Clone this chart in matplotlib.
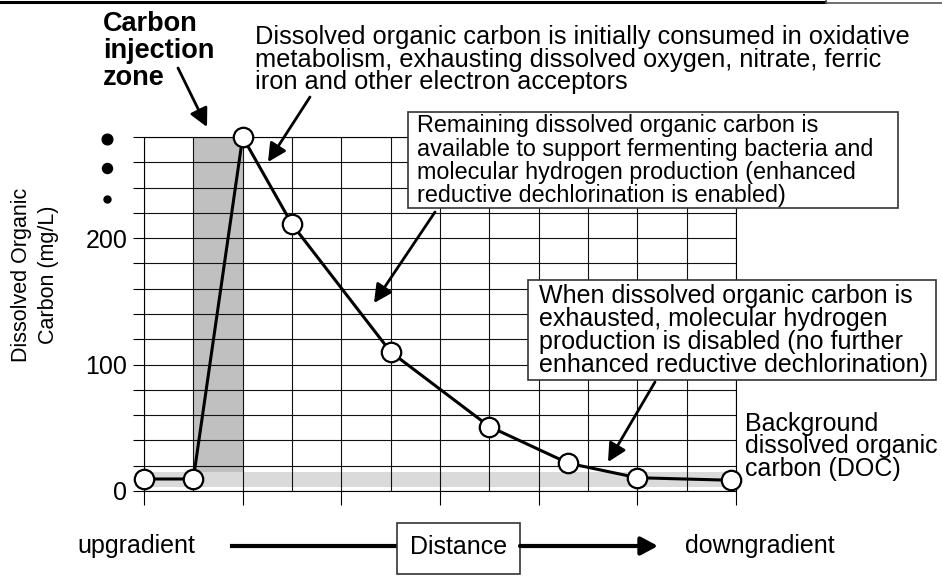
import matplotlib
matplotlib.use('Agg')
import matplotlib.pyplot as plt
from matplotlib.patches import Rectangle, FancyArrowPatch
from matplotlib.lines import Line2D
from matplotlib.ticker import FixedLocator, FuncFormatter

plt.rcParams['font.family'] = ['Liberation Sans', 'DejaVu Sans']

W, H = 942, 576

# DOC profile along the flow path (distance in grid units, DOC in mg/L)
distance = [0, 1, 2, 3, 5, 7, 8.6, 10, 11.9]
doc_mg_l = [9.5, 9.5, 280, 211, 110, 51, 22, 10.5, 8.5]

injection_zone = (1, 2)
zone_floor = 15
background_band = (3, 15)
x_max = 12
y_max = 280
y_step = 20
y_labelled = [0, 100, 200]


def fpx(x, y):
    """Pixel position measured from the top-left corner -> figure fraction."""
    return x / W, 1 - y / H


def arrow(p0, p1, lw=2.0, hl=0.55, hw=0.28, scale=20):
    a = FancyArrowPatch(fpx(*p0), fpx(*p1), transform=fig.transFigure,
                        arrowstyle=f'-|>,head_length={hl},head_width={hw}',
                        mutation_scale=scale, lw=lw, color='black',
                        shrinkA=0, shrinkB=0, zorder=4)
    fig.add_artist(a)


def box(x0, y0, x1, y1, lw=1.2):
    r = Rectangle(fpx(x0, y1), (x1 - x0) / W, (y1 - y0) / H,
                  transform=fig.transFigure, facecolor='white',
                  edgecolor='#333333', lw=lw, zorder=2)
    fig.add_artist(r)


def note(x, y_last, s, **kw):
    # y_last is the baseline of the last line
    fig.text(*fpx(x, y_last), s, va='baseline', **kw)


fig = plt.figure(figsize=(W / 100, H / 100), dpi=100)
left, top = fpx(144, 137)
right, bottom = fpx(736, 491)
ax = fig.add_axes([left, bottom, right - left, top - bottom])

ax.set_xlim(0, x_max)
ax.set_ylim(0, y_max)

# grid: every distance unit, every 20 mg/L
ax.xaxis.set_major_locator(FixedLocator(range(0, x_max + 1, 2)))
ax.xaxis.set_minor_locator(FixedLocator(range(1, x_max, 2)))
ax.yaxis.set_major_locator(FixedLocator(range(0, y_max + 1, y_step)))
ax.yaxis.set_major_formatter(FuncFormatter(
    lambda v, _: f'{v:.0f}' if round(v) in y_labelled else ''))
ax.grid(which='both', color='#111111', lw=0.8)
ax.tick_params(axis='x', which='major', direction='out', length=10,
               width=0.8, labelbottom=False)
ax.tick_params(axis='x', which='minor', length=0)
ax.tick_params(axis='y', direction='out', length=8, width=0.8, pad=4,
               labelsize=18)
for s in ax.spines.values():
    s.set_linewidth(0.8)

# injection zone and background DOC band
ax.add_patch(Rectangle((injection_zone[0], zone_floor),
                       injection_zone[1] - injection_zone[0],
                       y_max - zone_floor, facecolor='#c0c0c0',
                       edgecolor='none', zorder=0.5))
ax.add_patch(Rectangle((0, background_band[0]), x_max,
                       background_band[1] - background_band[0],
                       facecolor='#dadada', edgecolor='none', zorder=0.6))

ax.plot(distance, doc_mg_l, '-o', color='black', lw=2.2, ms=14,
        mfc='white', mec='black', mew=1.6, clip_on=False, zorder=5)

# axis break dots above the y axis
for (px, py), ms in zip([(107, 139), (107, 168), (107, 199)], [7.7, 7.2, 5.0]):
    fig.add_artist(Line2D([fpx(px, py)[0]], [fpx(px, py)[1]], marker='o',
                          ms=ms, color='black', transform=fig.transFigure))

fig.text(*fpx(35, 275), 'Dissolved Organic\nCarbon (mg/L)', rotation=90,
         ha='center', va='center', fontsize=15.5, linespacing=1.33,
         multialignment='center')

# annotations
note(103, 85, 'Carbon\ninjection\nzone', fontsize=19.5, fontweight='bold',
     linespacing=1.05)
arrow((178, 68), (207, 127))

note(255, 89,
     'Dissolved organic carbon is initially consumed in oxidative\n'
     'metabolism, exhausting dissolved oxygen, nitrate, ferric\n'
     'iron and other electron acceptors',
     fontsize=18.3, linespacing=0.92)
arrow((310, 97), (268, 162))

box(408, 112, 898, 208)
note(417, 202,
     'Remaining dissolved organic carbon is\n'
     'available to support fermenting bacteria and\n'
     'molecular hydrogen production (enhanced\n'
     'reductive dechlorination is enabled)',
     fontsize=16.8, linespacing=1.01)
arrow((435, 212), (374, 303))

box(528, 280, 936, 380)
note(539, 372,
     'When dissolved organic carbon is\n'
     'exhausted, molecular hydrogen\n'
     'production is disabled (no further\n'
     'enhanced reductive dechlorination)',
     fontsize=18, linespacing=0.95)
arrow((655, 382), (608, 462))

note(745, 476, 'Background\ndissolved organic\ncarbon (DOC)',
     fontsize=18, linespacing=0.93)

# distance axis legend
fig.text(*fpx(77, 546), 'upgradient', fontsize=18, va='center')
fig.add_artist(Line2D([fpx(232, 546)[0], fpx(397, 546)[0]],
                      [fpx(232, 546)[1]] * 2, lw=3, color='black',
                      transform=fig.transFigure))
box(397, 523, 520, 574)
fig.text(*fpx(458.5, 547), 'Distance', fontsize=18, ha='center',
         va='center')
arrow((520, 546), (658, 546), lw=3, hl=0.6, hw=0.32, scale=17)
fig.text(*fpx(685, 546), 'downgradient', fontsize=18, va='center')

# frame edge along the top
fig.add_artist(Line2D([0, 825 / W], [1 - 1.5 / H] * 2, lw=2.2,
                      color='black', transform=fig.transFigure))
fig.add_artist(Line2D([826 / W, 826 / W, 1], [1, 1 - 3 / H, 1 - 3 / H],
                      lw=1.2, color='#555555', transform=fig.transFigure))

fig.savefig('out.png', dpi=100)
